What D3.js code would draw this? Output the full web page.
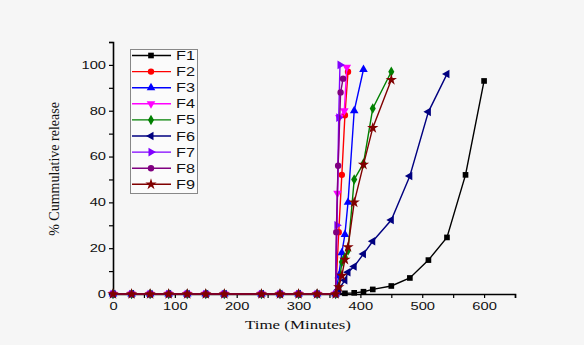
<!DOCTYPE html>
<html>
<head>
<meta charset="utf-8">
<script src="https://cdn.jsdelivr.net/npm/d3@7"></script>
<style>
  body { margin: 0; background: #f6f6f6; }
  svg { display: block; }
</style>
</head>
<body>
<div id="chart"></div>
<script>
// shared baseline sampling (no release before 360 min)
let baseTimes = [0, 30, 60, 90, 120, 150, 180, 240, 270, 300, 330, 360];

let names = ["F1", "F2", "F3", "F4", "F5", "F6", "F7", "F8", "F9"];

let tailTimes = [
  [375, 390, 405, 420, 450, 480, 510, 540, 570, 600],
  [365, 370, 375, 380],
  [365, 370, 375, 380, 390, 405],
  [363, 366, 374, 378],
  [365, 370, 375, 380, 390, 405, 420, 450],
  [365, 375, 380, 390, 405, 420, 450, 480, 510, 540],
  [362, 365, 367],
  [361, 364, 368, 372],
  [365, 370, 375, 380, 390, 405, 420, 450]
];

let tailValues = [
  [0.3, 0.5, 1, 2, 3.5, 7, 14.8, 24.7, 52, 93],
  [27, 52, 78, 97],
  [8, 18, 26, 40, 80, 98],
  [44, 77, 80, 99],
  [3, 14, 16, 19, 50, 57, 81, 97],
  [2, 6, 9.5, 12, 17.5, 23, 32.3, 51.5, 79.5, 96],
  [30, 77, 100],
  [27, 56, 88, 94],
  [3, 8, 15, 20.5, 40, 56.5, 72.5, 93.5]
];

let xTicks = [0, 100, 200, 300, 400, 500, 600];
let yTicks = [0, 20, 40, 60, 80, 100];

let colors = ["#000000", "#ff0000", "#0000ff", "#ff00ff", "#008000", "#000080", "#8000ff", "#800080", "#800000"];

// marker shapes
let tri = d3.symbolTriangle;
let shapes = [
  { type: d3.symbolSquare, rot: 0 },
  { type: d3.symbolCircle, rot: 0 },
  { type: tri, rot: 0 },
  { type: tri, rot: 180 },
  { type: d3.symbolDiamond, rot: 0 },
  { type: tri, rot: -90 },
  { type: tri, rot: 90 },
  { type: d3.symbolCircle, rot: 0 },
  { type: d3.symbolStar, rot: 0 }
];

let series = names.map((n, i) => ({
  name: n,
  color: colors[i],
  shape: shapes[i],
  points: baseTimes.map((t) => [t, 0]).concat(tailTimes[i].map((t, j) => [t, tailValues[i][j]]))
}));

let W = 584, H = 345;

let svg = d3.select("#chart").append("svg")
  .attr("width", W)
  .attr("height", H);

let x = d3.scaleLinear().domain([0, 650]).range([113, 515]);
let y = d3.scaleLinear().domain([0, 110]).range([294, 42]);

let sx = 1.4;

// x axis
let gx = svg.append("g")
  .attr("transform", "translate(0," + y(0) + ")")
  .call(d3.axisBottom(x).tickValues(d3.range(0, 651, 50)).tickSize(4).tickFormat((d) => xTicks.includes(d) ? d : ""));
gx.select(".domain").attr("stroke-width", 1.6);
gx.selectAll("line").attr("stroke-width", 1.2);
gx.selectAll("text")
  .attr("font-family", "Liberation Sans, Arial, sans-serif")
  .attr("font-size", 10.5)
  .attr("fill", "#111")
  .attr("y", 9)
  .attr("transform", "scale(" + sx + ",1)");

// y axis
let gy = svg.append("g")
  .attr("transform", "translate(" + x(0) + ",0)")
  .call(d3.axisLeft(y).tickValues(d3.range(0, 111, 10)).tickSize(4).tickFormat((d) => yTicks.includes(d) ? d : ""));
gy.select(".domain").attr("stroke-width", 1.6);
gy.selectAll("line").attr("stroke-width", 1.2);
gy.selectAll("text")
  .attr("font-family", "Liberation Sans, Arial, sans-serif")
  .attr("font-size", 10.5)
  .attr("fill", "#111")
  .attr("x", -5)
  .attr("transform", "scale(" + sx + ",1)");

// axis titles
svg.append("text")
  .attr("transform", "translate(298,329) scale(1.3,1)")
  .attr("text-anchor", "middle")
  .attr("font-family", "Liberation Serif, Times New Roman, serif")
  .attr("font-size", 13)
  .attr("fill", "#111")
  .text("Time (Minutes)");

svg.append("text")
  .attr("transform", "translate(59,169) rotate(-90)")
  .attr("text-anchor", "middle")
  .attr("font-family", "Liberation Serif, Times New Roman, serif")
  .attr("font-size", 14)
  .attr("fill", "#111")
  .text("% Cummulative release");

let line = d3.line().x((d) => x(d[0])).y((d) => y(d[1]));

let sym = (s, size) => d3.symbol().type(s.type).size(size)();
let msize = (s) => s.shape.type === d3.symbolStar ? 40 : 32;

series.forEach((s) => {
  let g = svg.append("g");
  g.append("path")
    .attr("d", line(s.points))
    .attr("fill", "none")
    .attr("stroke", s.color)
    .attr("stroke-width", 1.4);
  g.selectAll("path.m")
    .data(s.points)
    .enter()
    .append("path")
    .attr("class", "m")
    .attr("d", sym(s.shape, msize(s)))
    .attr("transform", (d) => "translate(" + x(d[0]) + "," + y(d[1]) + ") rotate(" + s.shape.rot + ")")
    .attr("fill", s.color);
});

// legend
let lg = svg.append("g");
lg.append("rect")
  .attr("x", 130.5)
  .attr("y", 49.5)
  .attr("width", 67)
  .attr("height", 144)
  .attr("fill", "#fbfbfb")
  .attr("stroke", "#888");

series.forEach((s, i) => {
  let yy = 55.5 + i * 16.1;
  lg.append("line")
    .attr("x1", 132).attr("x2", 171)
    .attr("y1", yy).attr("y2", yy)
    .attr("stroke", s.color)
    .attr("stroke-width", 1.4);
  lg.append("path")
    .attr("d", sym(s.shape, msize(s)))
    .attr("transform", "translate(151," + yy + ") rotate(" + s.shape.rot + ")")
    .attr("fill", s.color);
  lg.append("text")
    .attr("transform", "translate(176," + (yy + 4.5) + ") scale(1.3,1)")
    .attr("font-family", "Liberation Sans, Arial, sans-serif")
    .attr("font-size", 12.5)
    .attr("fill", "#111")
    .text(s.name);
});
</script>
</body>
</html>
